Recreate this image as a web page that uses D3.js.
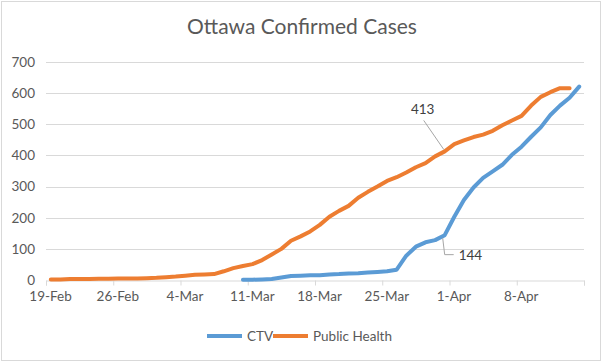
<!DOCTYPE html>
<html>
<head>
<meta charset="utf-8">
<script src="https://cdn.jsdelivr.net/npm/d3@7"></script>
<style>
  body { margin: 0; background: #fff; }
  svg { display: block; }
  .axis text { font-family: Lato, "Open Sans", sans-serif; font-size: 13.5px; fill: #595959; }
</style>
</head>
<body>
<div id="chart"></div>
<script>
// Dates: one point per day, starting 19-Feb-2020
var startDate = "2020-02-19";
var endDate = "2020-04-15";

// Tick dates on the x axis (label shown under all but the last)
var tickDates = ["2020-02-19","2020-02-26","2020-03-04","2020-03-11","2020-03-18","2020-03-25","2020-04-01","2020-04-08","2020-04-15"];

// y axis ticks
var yTicks = [0, 100, 200, 300, 400, 500, 600, 700];

// Public Health, 19-Feb to 14-Apr
var publicHealth = [2,2,3,3,3,4,4,5,5,5,6,7,9,11,14,17,18,19,28,38,
                    45,51,64,82,100,126,140,156,177,203,222,238,264,283,300,318,330,345,362,375,
                    397,413,436,448,459,467,479,497,512,527,560,588,603,616,616];

// CTV, 10-Mar to 15-Apr
var ctvStart = "2020-03-10";
var ctv = [1,1,2,3,8,13,14,15,15,18,19,21,22,24,26,28,33,78,107,121,
           128,144,203,257,297,328,349,370,402,428,460,490,530,560,585,621];

var seriesNames = ["CTV", "Public Health"];
var seriesColors = ["#5b9bd5", "#ed7d31"];

// Data labels on 31-Mar
var labelDate = "2020-03-31";

var parseDate = d3.timeParse("%Y-%m-%d");
var formatTick = d3.timeFormat("%-d-%b");
var fontFamily = "Lato, 'Open Sans', sans-serif";

var width = 602, height = 362;
var margin = {top: 62, right: 18, bottom: 82, left: 46};

var svg = d3.select("#chart")
            .append("svg")
            .attr("width", width)
            .attr("height", height);

// outer border
svg.append("rect")
    .attr("x", 1.5).attr("y", 1.5)
    .attr("width", width - 3).attr("height", height - 3)
    .attr("fill", "#fff")
    .attr("stroke", "#d9d9d9");

var x = d3.scaleTime()
    .domain([parseDate(startDate), parseDate(endDate)])
    .range([margin.left, width - margin.right]);

var y = d3.scaleLinear()
    .domain([0, 700])
    .range([height - margin.bottom, margin.top]);

// points sit in the middle of their day
function xMid(d) { return x(d3.timeHour.offset(d, 12)); }

// gridlines
svg.append("g")
    .selectAll("line")
    .data(yTicks.slice(1))
    .enter()
    .append("line")
    .attr("x1", margin.left)
    .attr("x2", width - margin.right)
    .attr("y1", function(d) { return Math.round(y(d)) + 0.5; })
    .attr("y2", function(d) { return Math.round(y(d)) + 0.5; })
    .attr("stroke", "#d9d9d9")
    .attr("stroke-width", 1);

// y axis labels
var yAxis = d3.axisLeft(y).tickValues(yTicks).tickSize(0).tickPadding(11);
svg.append("g")
    .attr("class", "axis")
    .attr("transform", "translate(" + margin.left + ",0)")
    .call(yAxis)
    .call(function(g) { g.select(".domain").remove(); });

// x axis
var xAxis = d3.axisBottom(x)
    .tickValues(tickDates.map(parseDate))
    .tickSize(5)
    .tickPadding(6)
    .tickFormat(function(d, i) { return i < tickDates.length - 1 ? formatTick(d) : ""; });

var gx = svg.append("g")
    .attr("class", "axis")
    .attr("transform", "translate(0," + (Math.round(y(0)) + 0.5) + ")")
    .call(xAxis);
gx.select(".domain").attr("stroke", "#d9d9d9");
gx.selectAll(".tick line").attr("stroke", "#d9d9d9");
gx.selectAll(".tick text").attr("x", 4).attr("dy", "0.68em");

// series
var phData = publicHealth.map(function(v, i) {
    return {date: d3.timeDay.offset(parseDate(startDate), i), value: v};
});
var ctvData = ctv.map(function(v, i) {
    return {date: d3.timeDay.offset(parseDate(ctvStart), i), value: v};
});

var line = d3.line()
    .x(function(d) { return xMid(d.date); })
    .y(function(d) { return y(d.value); });

svg.append("path")
    .datum(phData)
    .attr("d", line)
    .attr("fill", "none")
    .attr("stroke", seriesColors[1])
    .attr("stroke-width", 4)
    .attr("stroke-linejoin", "round")
    .attr("stroke-linecap", "round");

svg.append("path")
    .datum(ctvData)
    .attr("d", line)
    .attr("fill", "none")
    .attr("stroke", seriesColors[0])
    .attr("stroke-width", 4)
    .attr("stroke-linejoin", "round")
    .attr("stroke-linecap", "round");

// data labels with leader lines
var ld = parseDate(labelDate);
var phLabel = phData.find(function(d) { return +d.date === +ld; });
var ctvLabel = ctvData.find(function(d) { return +d.date === +ld; });

var px = xMid(ld), py = y(phLabel.value);
svg.append("polyline")
    .attr("points", [[px - 1, py - 2], [px - 21, py - 31]].join(" "))
    .attr("fill", "none")
    .attr("stroke", "#a6a6a6");
svg.append("text")
    .attr("x", px - 22)
    .attr("y", py - 37)
    .attr("text-anchor", "middle")
    .attr("font-family", fontFamily)
    .attr("font-size", "13.5px")
    .attr("fill", "#404040")
    .text(phLabel.value);

var cy = y(ctvLabel.value);
svg.append("polyline")
    .attr("points", [[px - 2, cy + 3], [px, cy + 19.5], [px + 9, cy + 19.5]].join(" "))
    .attr("fill", "none")
    .attr("stroke", "#a6a6a6");
svg.append("text")
    .attr("x", px + 14)
    .attr("y", cy + 25)
    .attr("font-family", fontFamily)
    .attr("font-size", "13.5px")
    .attr("fill", "#404040")
    .text(ctvLabel.value);

// title
svg.append("text")
    .attr("x", 302)
    .attr("y", 34)
    .attr("text-anchor", "middle")
    .attr("font-family", fontFamily)
    .attr("font-size", "21px")
    .attr("fill", "#595959")
    .text("Ottawa Confirmed Cases");

// legend
var legendX = [207, 273];
var legend = svg.append("g");
seriesNames.forEach(function(name, i) {
    legend.append("line")
        .attr("x1", legendX[i]).attr("x2", legendX[i] + 35)
        .attr("y1", 336).attr("y2", 336)
        .attr("stroke", seriesColors[i])
        .attr("stroke-width", 4);
    legend.append("text")
        .attr("x", legendX[i] + 40)
        .attr("y", 341)
        .attr("font-family", fontFamily)
        .attr("font-size", "13.5px")
        .attr("fill", "#595959")
        .text(name);
});
</script>
</body>
</html>
